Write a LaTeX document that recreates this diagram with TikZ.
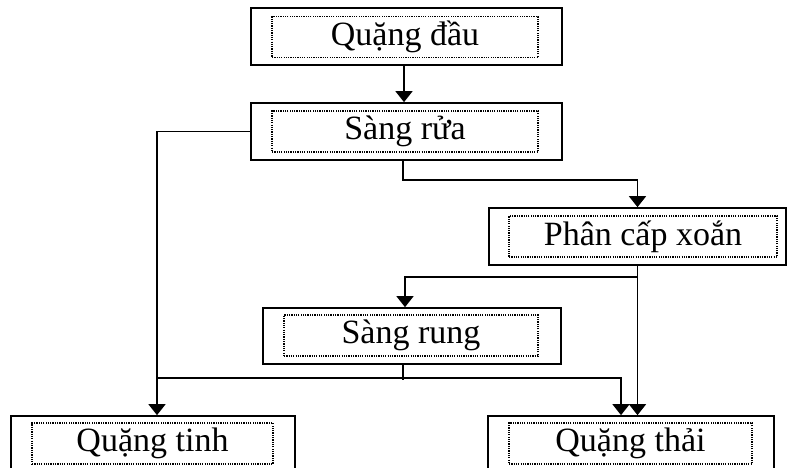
\documentclass[tikz,border=0pt]{standalone}
\usepackage{fontspec}
\setmainfont{Liberation Serif}
\usetikzlibrary{arrows.meta,calc}
\begin{document}
\begin{tikzpicture}[x=1pt,y=-1pt,
  outerbox/.style={draw=black,line width=1.7pt,minimum width=#1,minimum height=57pt,inner sep=0pt,anchor=center},
  innerbox/.style={draw=black,line width=1.2pt,dash pattern=on 1.2pt off 1.1pt,minimum width=#1,minimum height=41pt,inner sep=0pt,anchor=center,font=\fontsize{34}{38}\selectfont},
  conn/.style={line width=1.6pt,draw=black},
  arr/.style={conn,-{Triangle[width=17pt,length=11pt]}}]
\useasboundingbox (0,0) rectangle (787,467);
\begin{scope}
\clip (0,0) rectangle (787,467);
% boxes
\node[outerbox=311pt] (b1) at (406.5,36.5) {};
\node[innerbox=266pt] (t1) at (405,37) {Quặng đầu};
\node[outerbox=311pt] (b2) at (406.5,131.5) {};
\node[innerbox=266pt] (t2) at (405,131.5) {Sàng rửa};
\node[outerbox=297pt] (b3) at (637.5,236.5) {};
\node[innerbox=268pt] (t3) at (643,236.5) {Phân cấp xoắn};
\node[outerbox=298pt,minimum height=56pt] (b4) at (412,336) {};
\node[innerbox=254pt] (t4) at (411,335.5) {Sàng rung};
\node[outerbox=284pt] (b5) at (153,444.5) {};
\node[innerbox=241pt] (t5) at (152.5,443.5) {Quặng tinh};
\node[outerbox=286pt] (b6) at (631,444.5) {};
\node[innerbox=243pt] (t6) at (630.5,443.5) {Quặng thải};
\end{scope}
% connectors
\draw[arr] ($(b1.south)+(-2.5,0)$) -- ($(b2.north)+(-2.5,0)$);
\draw[arr] (b2.west) -| ($(b5.north)+(4,0)$);
\coordinate (j1) at ($(b2.south)+(-3.5,19)$);
\draw[arr] ($(b2.south)+(-3.5,0)$) -- (j1) -| (b3.north);
\coordinate (j2) at ($(b3.south)+(0,11)$);
\draw[conn] (b3.south) -- (j2);
\draw[arr] (j2) -| ($(b4.north)+(-7,0)$);
\draw[arr] (b3.south) -- (b3.south |- b6.north);
\coordinate (j3) at ($(b4.south)+(-9,15)$);
\draw[conn] ($(b4.south)+(-9,0)$) -- (j3);
\draw[arr] ($(b5.north)+(4,-37)$) -| ($(b6.north)+(-10,0)$);
\end{tikzpicture}
\end{document}
